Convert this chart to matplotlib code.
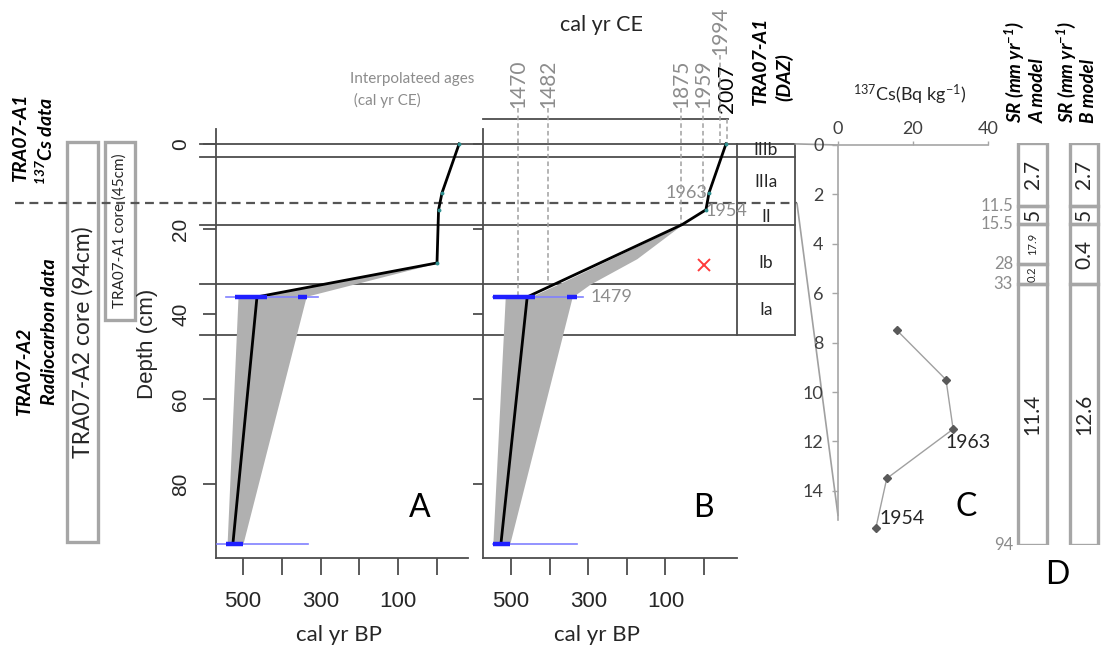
"""
Age-depth models (A, B), 137Cs profile (C) and sedimentation rates (D)
for cores TRA07-A1 / TRA07-A2. Writes out.png.
"""

import numpy as np
import matplotlib
matplotlib.use("Agg")
import matplotlib.pyplot as plt
from matplotlib.patches import Rectangle, ConnectionPatch
from matplotlib.transforms import blended_transform_factory as blend

plt.rcParams['font.family'] = ['Lato', 'DejaVu Sans']
plt.rcParams['mathtext.fontset'] = 'custom'
plt.rcParams['mathtext.rm'] = 'Lato'
plt.rcParams['mathtext.it'] = 'Lato:italic'
plt.rcParams['mathtext.bf'] = 'Lato:bold:italic'

ARIAL = 'Liberation Sans'
DARK = '#262626'
GREY_TXT = '#8c8c8c'
LINE = '#4d4d4d'

# ----------------------------------------------------------------------
# DATA
# ----------------------------------------------------------------------

# panel A: age-depth model, depth (cm) vs cal yr BP
a_depth = [0, 11.5, 15.5, 28, 36, 94]
a_age = [-57, -13, -4, 0, 464, 526]
a_band_depth = [28, 35.8, 36.2, 94]
a_band_old = [0, 462, 513, 541]
a_band_young = [0, 335, 338, 500]
a_date_depth = [36, 94]
a_date_lo = [307, 332]
a_date_hi = [544, 567]
a_date_hpd = [[(438, 521), (335, 358)], [(500, 544)]]

# panel B
b_depth = [0, 11.5, 15.5, 19, 36, 94]
b_age = [-57, -13, -5, 57, 458, 526]
b_band_depth = [19, 27, 33, 35.8, 36.2, 94]
b_band_old = [57, 240, 378, 445, 515, 547]
b_band_young = [57, 174, 295, 338, 342, 503]
b_date_depth = [36, 94]
b_date_lo = [313, 329]
b_date_hi = [547, 547]
b_date_hpd = [[(438, 547), (329, 355)], [(503, 547)]]
outlier_depth = 28.5
outlier_age = 0

# interpolated ages (cal yr CE) shown as guides on B
guide_year = ['1470', '1482', '1875', '1959', '1994', '2007']
guide_bp = [482, 404, 60, 3, -41, -60]
guide_end_depth = [36, 33, 19, 13.3, 0, 0]

# panel C: 137Cs activity
cs_depth = [7.5, 9.5, 11.5, 13.5, 15.5]
cs_bq = [15.7, 28.8, 30.7, 13.0, 10.1]
cs_marker_year = {11.5: '1963', 15.5: '1954'}

# depositional zones (DAZ)
daz_bounds = [0, 3, 14, 19, 33, 45]
daz_names = ['IIIb', 'IIIa', 'II', 'Ib', 'Ia']
daz_label_depth = [1.5, 9, 17.2, 28, 39]

# panel D: sedimentation rates (mm/yr)
sr_a_bounds = [0, 11.5, 15.5, 28, 33, 94]
sr_a = ['2.7', '5', '17.9', '0.2', '11.4']
sr_b_bounds = [0, 11.5, 15.5, 33, 94]
sr_b = ['2.7', '5', '0.4', '12.6']
sr_depth_labels = ['11.5', '15.5', '28', '33', '94']

# ----------------------------------------------------------------------
# LAYOUT
# ----------------------------------------------------------------------

W, H = 1112, 649
fig = plt.figure(figsize=(W / 100, H / 100), dpi=100)


def px_axes(x0, y0, x1, y1):
    return fig.add_axes([x0 / W, 1 - y1 / H, (x1 - x0) / W, (y1 - y0) / H])


ov = fig.add_axes([0, 0, 1, 1])
ov.set_xlim(0, W)
ov.set_ylim(H, 0)
ov.axis('off')
ov.set_zorder(0)

axA = px_axes(216, 129, 468, 558)
axB = px_axes(483, 129, 737, 558)
axC = px_axes(838, 145, 988, 520)
axD = px_axes(990, 143, 1110, 545)
for ax in (axA, axB, axC, axD):
    ax.set_zorder(1)
    ax.set_facecolor('none')

axA.set_xlim(569.6, -79.9)
axB.set_xlim(572.5, -85.5)
for ax in (axA, axB):
    ax.set_ylim(97.4, -3.5)
    for s in ('top', 'right'):
        ax.spines[s].set_visible(False)
    for s in ('left', 'bottom'):
        ax.spines[s].set_color(LINE)
        ax.spines[s].set_linewidth(1.3)
    xt = list(range(0, 501, 100))
    ax.set_xticks(xt)
    ax.set_xticklabels([str(v) if v in (100, 300, 500) else '' for v in xt],
                       fontfamily=ARIAL, fontsize=16, color=DARK)
    ax.tick_params(axis='x', length=12, width=1.3, color=LINE, pad=12)
    ax.set_yticks([0, 20, 40, 60, 80])

axA.set_yticklabels(['0', '20', '40', '60', '80'], fontfamily=ARIAL,
                    fontsize=15, color=DARK, rotation=90, va='center')
axA.tick_params(axis='y', length=9.5, width=1.3, color=LINE, pad=9)
axB.set_yticklabels([])
axB.tick_params(axis='y', length=7, width=1.3, color=LINE)


def draw_model(ax, depth, age, bd, bold, byoung, dd, dlo, dhi, dhpd):
    ax.fill_betweenx(bd, bold, byoung, color='#b0b0b0', lw=0, zorder=2)
    ax.plot(age, depth, color='black', lw=2.0, zorder=4)
    for d, lo, hi, segs in zip(dd, dlo, dhi, dhpd):
        ax.plot([lo, hi], [d, d], color='#8080ff', lw=1.2, zorder=5,
                clip_on=False)
        for s0, s1 in segs:
            ax.plot([s0, s1], [d, d], color='#1f1fff', lw=3.2, zorder=5,
                    solid_capstyle='butt')


draw_model(axA, a_depth, a_age, a_band_depth, a_band_old, a_band_young,
           a_date_depth, a_date_lo, a_date_hi, a_date_hpd)
draw_model(axB, b_depth, b_age, b_band_depth, b_band_old, b_band_young,
           b_date_depth, b_date_lo, b_date_hi, b_date_hpd)
axA.plot(a_age[:4], a_depth[:4], ls='none', marker='o', ms=1.8,
         color='#2f8f8f', zorder=6)
axB.plot(b_age[:3], b_depth[:3], ls='none', marker='o', ms=1.8,
         color='#2f8f8f', zorder=6)
axB.plot(outlier_age, outlier_depth, marker='x', color='#ff3b3b', ms=9,
         mew=1.4, zorder=6)

# ages labelled on B
axB.annotate('1963', (b_age[1], b_depth[1]), xytext=(-1, 0),
             textcoords='offset points', ha='right', va='center',
             fontsize=13, color=GREY_TXT)
axB.annotate('1954', (b_age[2], b_depth[2]), xytext=(0, -1),
             textcoords='offset points', ha='left', va='center',
             fontsize=13, color=GREY_TXT)
axB.annotate('1479', (b_date_lo[0], b_date_depth[0]), xytext=(5, 0),
             textcoords='offset points', ha='left', va='center',
             fontsize=13, color=GREY_TXT)

# DAZ lines across A and B
tA = blend(ov.transData, axA.transData)
for d in daz_bounds:
    if d == 14:
        ov.plot([15, 797], [d, d], transform=tA, color='#555555', lw=1.6,
                dashes=(4, 2.5), zorder=3)
    else:
        ov.plot([200, 795], [d, d], transform=tA, color=LINE, lw=1.3)
for xv in (737, 795):
    ov.plot([xv, xv], [daz_bounds[0], daz_bounds[-1]], transform=tA,
            color=LINE, lw=1.3)
for name, d in zip(daz_names, daz_label_depth):
    ov.text(766, d, name, transform=tA, ha='center', va='center',
            fontsize=12.5, color=DARK)

# CE guides and labels
ov.plot([483, 728], [119, 119], color=LINE, lw=1.3)
tB = blend(axB.transData, ov.transData)
label_bottom = [108, 108, 108, 108, 55, 113]
guide_top = [108, 108, 108, 108, 55, 119]
to_depth = axB.transData.inverted()
for yr, bp, dend, lb, gt in zip(guide_year, guide_bp, guide_end_depth,
                                label_bottom, guide_top):
    dtop = to_depth.transform(ov.transData.transform((0, gt)))[1]
    axB.plot([bp, bp], [dtop, dend], color='#a0a0a0', lw=1.1,
             dashes=(3, 2), clip_on=False, zorder=3)
    ov.text(bp, lb, yr, transform=tB, rotation=90, ha='center', va='bottom',
            fontsize=15, color='black' if yr == '2007' else GREY_TXT)

# ----------------------------------------------------------------------
# PANEL C
# ----------------------------------------------------------------------

axC.set_xlim(0, 40)
axC.set_ylim(15.18, 0)
for s in ('bottom', 'right'):
    axC.spines[s].set_visible(False)
for s in ('top', 'left'):
    axC.spines[s].set_color('#a6a6a6')
    axC.spines[s].set_linewidth(1.2)
axC.xaxis.tick_top()
axC.set_xticks([0, 20, 40])
axC.set_yticks(range(0, 15, 2))
axC.tick_params(axis='both', colors='#a6a6a6', labelcolor='#404040',
                labelsize=13, width=1)
axC.tick_params(axis='x', length=3, pad=3)
axC.tick_params(axis='y', length=4.5, pad=6)
axC.plot(cs_bq, cs_depth, color='#a0a0a0', lw=1, marker='D', ms=4.5,
         mfc='#595959', mec='#595959', clip_on=False)
for d, yr in cs_marker_year.items():
    i = cs_depth.index(d)
    off = (11, -10) if d == 11.5 else (19, 7)
    axC.annotate(yr, (cs_bq[i], d), xytext=off, textcoords='offset points',
                 ha='center', va='center', fontsize=14, color=DARK,
                 annotation_clip=False)
ov.text(910, 95, r'$^{137}$Cs(Bq kg$^{-1}$)', ha='center', va='center',
        fontsize=13, color=DARK)

# connectors B -> C
for (x0, d0, d1) in ((795, 0, 0), (797, 14, 15)):
    con = ConnectionPatch(xyA=(x0, d0), coordsA=tA, xyB=(0, d1),
                          coordsB=axC.transData, color='#a0a0a0', lw=1.2)
    fig.add_artist(con)

# ----------------------------------------------------------------------
# PANEL D
# ----------------------------------------------------------------------

d_knot_px = [0, 63, 81, 121, 141, 402]


def d_fwd(d):
    return np.interp(d, sr_a_bounds, d_knot_px)


def d_inv(p):
    return np.interp(p, d_knot_px, sr_a_bounds)


axD.set_yscale('function', functions=(d_fwd, d_inv))
axD.set_ylim(94, 0)
axD.set_xlim(990, 1110)
axD.axis('off')

for x0, x1, bounds, vals in ((1018, 1047, sr_a_bounds, sr_a),
                             (1070, 1098, sr_b_bounds, sr_b)):
    for top, bot, v in zip(bounds[:-1], bounds[1:], vals):
        axD.add_patch(Rectangle((x0, top), x1 - x0, bot - top, fill=False,
                                ec='#a6a6a6', lw=2.4))
        mid = d_inv((d_fwd(top) + d_fwd(bot)) / 2)
        axD.text((x0 + x1) / 2, mid, v, rotation=90, ha='center',
                 va='center', fontsize=8 if v in ('17.9', '0.2') else 15,
                 color=DARK)
for lab in sr_depth_labels:
    axD.text(1013, float(lab), lab, ha='right', va='center', color=GREY_TXT,
             fontsize=12)

for x, s in ((1015, r'SR (mm yr$^{\mathbf{-1}}$)'), (1038, 'A model'),
             (1067, r'SR (mm yr$^{\mathbf{-1}}$)'), (1088, 'B model')):
    ov.text(x, 123, s, rotation=90, ha='center', va='bottom', fontsize=13.5,
            fontweight='bold', fontstyle='italic', color='black')

# ----------------------------------------------------------------------
# TEXT AND BOXES
# ----------------------------------------------------------------------

ov.text(148, 344, 'Depth (cm)', rotation=90, ha='center', va='center',
        fontfamily=ARIAL, fontsize=16, color=DARK)
ov.text(339, 635, 'cal yr BP', ha='center', va='center', fontsize=16,
        color=DARK)
ov.text(597, 635, 'cal yr BP', ha='center', va='center', fontsize=16,
        color=DARK)
ov.text(602, 25, 'cal yr CE', ha='center', va='center', fontsize=15.5,
        color=DARK)
ov.text(350, 79, 'Interpolateed ages', ha='left', va='center', fontsize=11,
        color=GREY_TXT)
ov.text(350, 100, ' (cal yr CE)', ha='left', va='center', fontsize=11,
        color=GREY_TXT)

for x, y, s in ((760, 105, 'TRA07-A1'), (784, 101, '(DAZ)'),
                (20, 137, 'TRA07-A1'), (45, 141, r'$^{\mathbf{137}}$Cs data'),
                (24, 371, 'TRA07-A2'), (50, 332, 'Radiocarbon data')):
    va = 'bottom' if x > 700 else 'center'
    ov.text(x, y, s, rotation=90, ha='center', va=va, fontsize=14,
            fontweight='bold', fontstyle='italic', color='black')

ov.add_patch(Rectangle((67, 142), 31, 400, fill=False, ec='#a6a6a6', lw=2.4))
ov.text(82.5, 342, 'TRA07-A2 core (94cm)', rotation=90, ha='center',
        va='center', fontsize=16.5, color=DARK)
ov.add_patch(Rectangle((105, 142), 30, 178, fill=False, ec='#a6a6a6', lw=2.4))
ov.text(120, 231, 'TRA07-A1 core (45cm)', rotation=90, ha='center',
        va='center', fontsize=11, color=DARK)

for x, y, s in ((420, 508, 'A'), (703, 508, 'B'), (966, 507, 'C'),
                (1057, 575, 'D')):
    ov.text(x, y, s, ha='center', va='center', fontsize=23, color='black')

fig.savefig('out.png', dpi=100)
plt.close(fig)
